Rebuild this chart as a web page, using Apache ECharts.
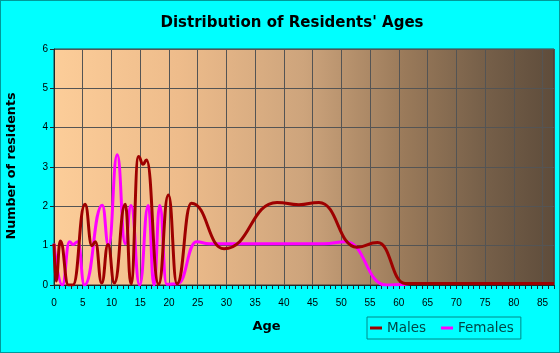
<!DOCTYPE html>
<html>
<head>
<meta charset="utf-8">
<script src="https://cdn.jsdelivr.net/npm/echarts@6/dist/echarts.min.js"></script>
<style>
html,body{margin:0;padding:0;background:#00ffff;}
#c{position:absolute;left:0;top:0;width:560px;height:353px;}
#b{position:absolute;left:0;top:0;width:558px;height:351px;border:1px solid #009a9a;pointer-events:none;}
</style>
</head>
<body>
<div id="c"></div>
<div id="b"></div>
<script>
const titleText = "Distribution of Residents' Ages";
const xName = "Age";
const yName = "Number of residents";
const seriesNames = ["Males", "Females"];

const maleAges = [0, 0.35, 1.1, 2.5, 3.3, 5.4, 6.6, 7.2, 8.3, 9.4, 10.5, 12.4, 13.4, 14.7, 15.5, 16.1, 18.2, 19.9, 21.4, 23.9, 29.6, 38.8, 42.6, 46.1, 52.7, 56.3, 61.1, 87];
const maleValues = [1.05, 0.1, 1.12, 0, 0, 2.05, 1.0, 1.1, 0.05, 1.03, 0.05, 2.05, 0.03, 3.27, 3.07, 3.18, 0.02, 2.29, 0.03, 2.08, 0.92, 2.1, 2.04, 2.1, 0.96, 1.08, 0.04, 0.04];

const femaleAges = [0, 1.45, 2.7, 3.3, 4.15, 5.3, 8.4, 9.5, 11.0, 12.4, 13.4, 14.9, 16.4, 17.4, 18.4, 19.6, 21.5, 24.8, 27, 47, 50.7, 57.8, 60.5, 62, 87];
const femaleValues = [1.05, 0, 1.1, 1.03, 1.1, 0, 2.03, 1.0, 3.31, 1.05, 2.02, 0, 2.02, 0, 2.02, 0.02, 0.03, 1.1, 1.05, 1.05, 1.1, 0, 0.01, 0.04, 0.04];

const xMin = 0, xMax = 87, xStep = 5;
const yMin = 0, yMax = 6, yStep = 1;

const pair = (xs, ys) => xs.map((x, i) => [x, ys[i]]);

const chart = echarts.init(document.getElementById('c'), null, {renderer: 'canvas'});
const axisColor = '#1a2a2a';
const labelFont = '"Liberation Sans", Arial, sans-serif';

chart.setOption({
  animation: false,
  backgroundColor: '#00ffff',
  grid: {
    left: 54, top: 49, right: 6, bottom: 68,
    show: true,
    borderColor: '#3a3a3a', borderWidth: 1,
    backgroundColor: new echarts.graphic.LinearGradient(0, 0, 1, 0, [
      {offset: 0, color: '#fccd99'},
      {offset: 0.25, color: '#eebc8b'},
      {offset: 0.5, color: '#cda47c'},
      {offset: 0.7, color: '#9a7a5a'},
      {offset: 0.85, color: '#78614a'},
      {offset: 1, color: '#5e4c3b'}
    ])
  },
  xAxis: [{
    type: 'value', min: xMin, max: xMax, interval: xStep,
    axisLine: {show: true, onZero: false, lineStyle: {color: axisColor}},
    axisTick: {show: false},
    splitLine: {show: true, lineStyle: {color: '#545454', width: 1}},
    axisLabel: {
      color: '#000', fontSize: 10, fontFamily: labelFont, margin: 13,
      showMaxLabel: false,
      formatter: v => (v % xStep === 0 ? String(v) : '')
    }
  }, {
    type: 'value', min: xMin, max: xMax, interval: 1, position: 'bottom',
    axisLine: {show: false},
    axisTick: {show: true, length: 4, lineStyle: {color: axisColor}},
    splitLine: {show: false},
    axisLabel: {show: false}
  }],
  yAxis: {
    type: 'value', min: yMin, max: yMax, interval: yStep,
    axisLine: {show: true, onZero: false, lineStyle: {color: axisColor}},
    axisTick: {show: true, length: 4, lineStyle: {color: axisColor}},
    splitLine: {show: true, lineStyle: {color: '#545454', width: 1}},
    axisLabel: {color: '#000', fontSize: 10, fontFamily: labelFont, margin: 6}
  },
  legend: {
    data: seriesNames,
    left: 367, top: 317,
    orient: 'horizontal',
    icon: 'rect', itemWidth: 12, itemHeight: 3, itemGap: 15,
    padding: [4, 7, 4, 3],
    borderColor: '#008a8a', borderWidth: 1,
    textStyle: {fontFamily: '"DejaVu Sans", sans-serif', fontSize: 13.5, color: '#004848'}
  },
  graphic: [
    {type: 'text', x: 292, y: 23, style: {text: titleText, font: 'bold 15px "DejaVu Sans", sans-serif', fill: '#000', align: 'center', verticalAlign: 'middle', textAlign: 'center', textVerticalAlign: 'middle'}},
    {type: 'text', x: 12, y: 166, rotation: Math.PI / 2, style: {text: yName, font: 'bold 12.7px "DejaVu Sans", sans-serif', fill: '#000', align: 'center', verticalAlign: 'middle', textAlign: 'center', textVerticalAlign: 'middle'}},
    {type: 'text', x: 266.5, y: 327, style: {text: xName, font: 'bold 13px "DejaVu Sans", sans-serif', fill: '#000', align: 'center', verticalAlign: 'middle', textAlign: 'center', textVerticalAlign: 'middle'}}
  ],
  series: [
    {
      name: seriesNames[1], type: 'line', xAxisIndex: 0,
      data: pair(femaleAges, femaleValues),
      smooth: 0.5, smoothMonotone: 'x', symbol: 'none',
      lineStyle: {color: '#ff00ff', width: 3}, itemStyle: {color: '#ff00ff'}
    },
    {
      name: seriesNames[0], type: 'line', xAxisIndex: 0,
      data: pair(maleAges, maleValues),
      smooth: 0.5, smoothMonotone: 'x', symbol: 'none',
      lineStyle: {color: '#9e0000', width: 3}, itemStyle: {color: '#9e0000'}
    }
  ]
});
</script>
</body>
</html>
